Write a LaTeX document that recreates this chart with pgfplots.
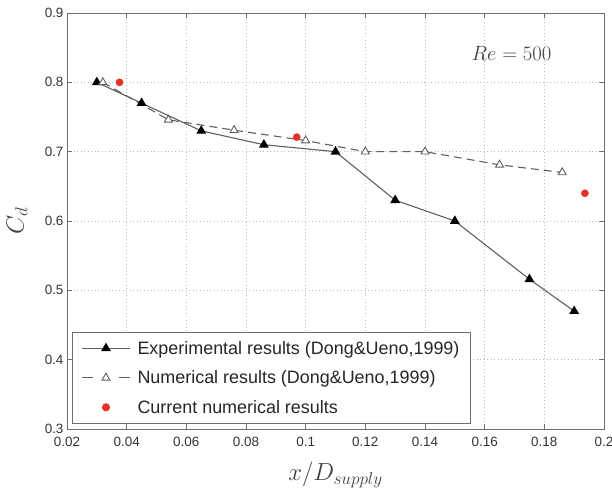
\documentclass[border=0pt]{standalone}
\usepackage{fontspec}
\setmainfont{Liberation Sans}
\usepackage{pgfplots}
\pgfplotsset{compat=1.18}
\definecolor{dotred}{RGB}{232,48,40}
\definecolor{axgray}{RGB}{110,110,110}
\definecolor{linegray}{RGB}{95,95,95}
\pgfplotsset{
  longlegend/.style={legend image code/.code={\draw[mark repeat=2,mark phase=2,##1] plot coordinates {(0bp,0bp) (24bp,0bp) (48bp,0bp)};}},
  dashlegend/.style={legend image code/.code={\draw[mark repeat=2,mark phase=2,##1,dash pattern=on 11bp off 26bp] plot coordinates {(0bp,0bp) (24bp,0bp) (48bp,0bp)};}},
  dotlegend/.style={legend image code/.code={\path[##1] plot coordinates {(24bp,0bp)};}},
}
\begin{document}
\begin{tikzpicture}
\useasboundingbox (-67bp,-64bp) rectangle (545bp,429bp);
\begin{axis}[
  scale only axis, width=537bp, height=416bp,
  xmin=0.02, xmax=0.2, ymin=0.3, ymax=0.9,
  xtick={0.02,0.04,0.06,0.08,0.1,0.12,0.14,0.16,0.18,0.2},
  xticklabels={0.02,0.04,0.06,0.08,0.1,0.12,0.14,0.16,0.18,0.2},
  ytick={0.3,0.4,0.5,0.6,0.7,0.8,0.9},
  yticklabels={0.3,0.4,0.5,0.6,0.7,0.8,0.9},
  ticklabel style={font=\fontsize{13.5}{15}\selectfont, text=black!80},
  xticklabel style={yshift=-5bp},
  tick align=inside, major tick length=5bp,
  tick style={axgray, line width=0.8bp},
  axis line style={axgray, line width=0.9bp},
  grid=major, grid style={gray!55, line width=0.8bp, dash pattern=on 0.9bp off 2.6bp},
  xlabel={$x/D_{supply}$}, ylabel={$C_d$},
  xlabel style={font=\fontsize{26}{30}\selectfont, text=black!75, at={(axis description cs:0.5,-0.11)}, anchor=center},
  ylabel style={font=\fontsize{26}{30}\selectfont, text=black!75, at={(axis description cs:-0.093,0.5)}, anchor=center},
  legend style={at={(0.0093,0.012)}, anchor=south west, draw=axgray, line width=0.9bp,
    font=\fontsize{18}{21}\selectfont, text=black!85, row sep=11bp, inner xsep=9bp, inner ysep=7bp,
    /tikz/every odd column/.append style={column sep=5bp}},
  legend cell align=left,
  longlegend,
]
\addplot[linegray, line width=1.1bp, mark=triangle*, mark size=4.6bp,
  mark options={solid, fill=black, draw=black}]
  coordinates {(0.030,0.80) (0.045,0.77) (0.065,0.73) (0.086,0.71) (0.110,0.70)
               (0.130,0.63) (0.150,0.60) (0.175,0.516) (0.190,0.47)};
\addlegendentry{Experimental results (Dong\&Ueno,1999)}
\addplot[linegray, line width=1.1bp, dash pattern=on 8bp off 5bp, mark=triangle*, mark size=4.6bp,
  mark options={solid, fill=white, draw=linegray, line width=0.9bp}, dashlegend]
  coordinates {(0.032,0.80) (0.054,0.746) (0.076,0.731) (0.100,0.716) (0.120,0.70)
               (0.140,0.70) (0.165,0.681) (0.186,0.670)};
\addlegendentry{Numerical results (Dong\&Ueno,1999)}
\addplot[only marks, mark=*, mark size=3.6bp, mark options={fill=dotred, draw=dotred}, dotlegend]
  coordinates {(0.0376,0.80) (0.097,0.721) (0.1936,0.640)};
\addlegendentry{Current numerical results}
\node[font=\fontsize{22}{26}\selectfont, text=black!75] at (axis cs:0.169,0.842) {$Re=500$};
\end{axis}
\end{tikzpicture}
\end{document}
